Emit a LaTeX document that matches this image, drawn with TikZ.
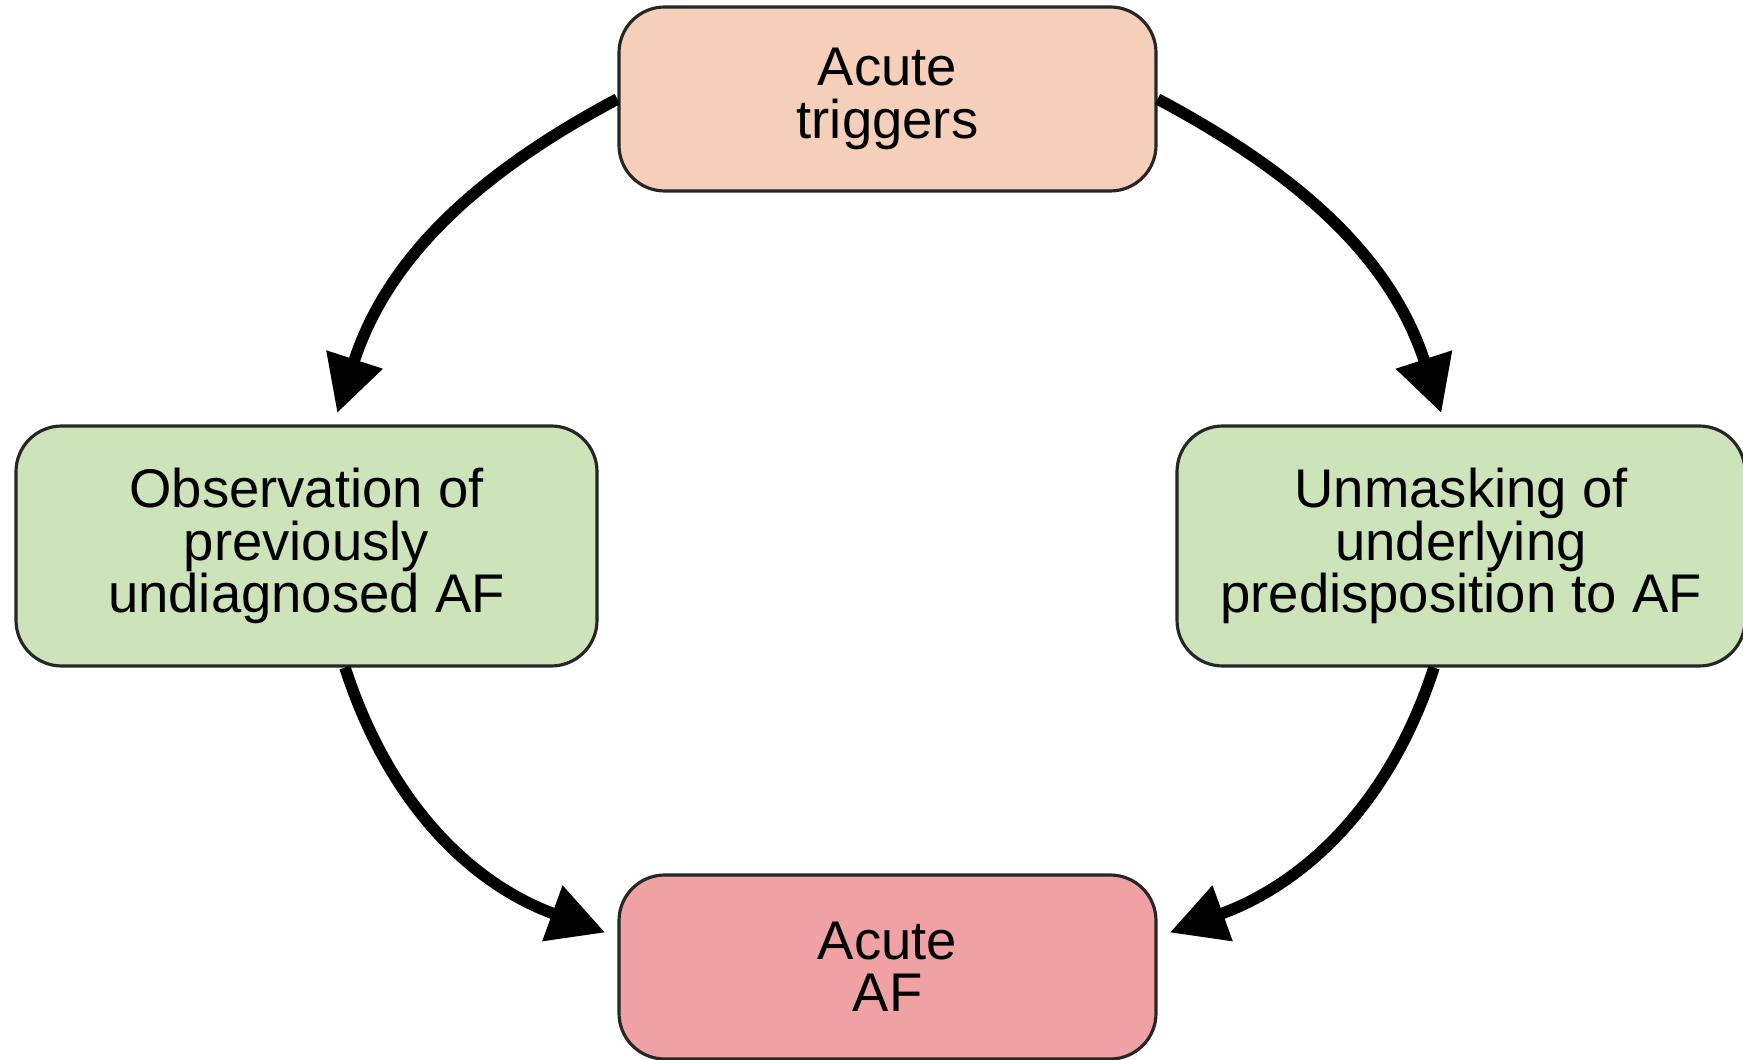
\documentclass[tikz,border=0pt]{standalone}
\usepackage{fontspec}
\setmainfont{Liberation Sans}
\usepackage{tikz}
\usetikzlibrary{arrows.meta,shapes.misc}
\definecolor{peach}{HTML}{F5CFBA}
\definecolor{leaf}{HTML}{CDE4BB}
\definecolor{rose}{HTML}{F0A1A4}
\tikzset{box/.style={draw=black!85, line width=0.9pt, rounded corners=13pt, align=center,
  inner sep=0pt, font=\fontsize{15.5}{14.9}\selectfont, fill=#1},
box/.default={leaf},
%thick black arrow between boxes
flow/.style={line width=3.3pt, -{Triangle[length=16pt,width=16pt]}}}

\begin{document}
\begin{tikzpicture}
\useasboundingbox (0,0) rectangle (17.43,10.59);
%\draw [help lines] (0,0) grid (17,10);

% boxes
\node[box=peach, minimum width=5.37cm, minimum height=1.84cm] (triggers) at (8.875,9.60) {Acute\\triggers};
\node[box, minimum width=5.81cm, minimum height=2.40cm] (observe) at (3.065,5.13) {Observation of\\previously\\undiagnosed AF};
\node[box, minimum width=5.68cm, minimum height=2.40cm] (unmask) at (14.61,5.13) {Unmasking of\\underlying\\predisposition to AF};
\node[box=rose, minimum width=5.37cm, minimum height=1.84cm] (acute) at (8.875,0.92) {Acute\\AF};

% arrows
\draw[flow, shorten >=1.2mm] (triggers.west) to[out=208,in=72] ([xshift=2.7mm]observe.north);
\draw[flow, shorten >=1.2mm] (triggers.east) to[out=-28,in=108] ([xshift=-1.6mm]unmask.north);
\draw[flow, shorten >=1.3mm] ([xshift=3.85mm]observe.south) to[out=-72,in=160] ([yshift=3mm]acute.west);
\draw[flow, shorten >=1.3mm] ([xshift=-2.7mm]unmask.south) to[out=252,in=20] ([yshift=3mm]acute.east);

\end{tikzpicture}
\end{document}
